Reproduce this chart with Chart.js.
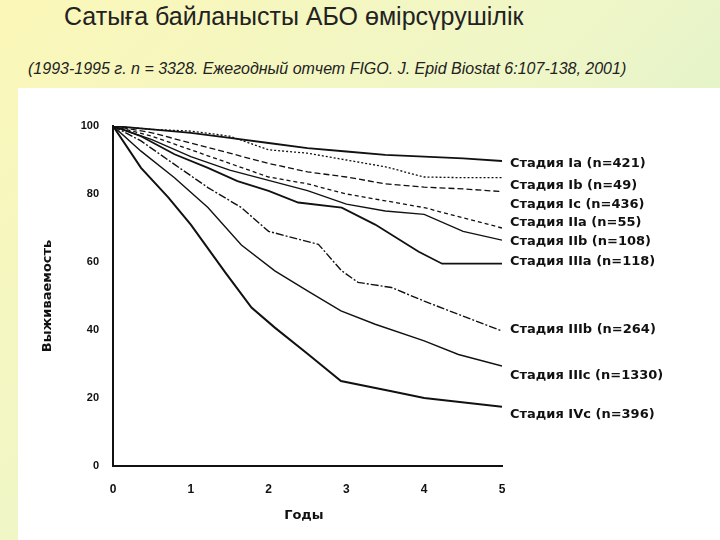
<!DOCTYPE html>
<html><head><meta charset="utf-8">
<script src="https://cdn.jsdelivr.net/npm/chart.js@4"></script>
<style>
body{margin:0;width:720px;height:540px;overflow:hidden;font-family:"Liberation Sans",Arial,sans-serif;
background:linear-gradient(135deg,#fbf7b8 0%,#eef6c8 50%,#cdeccc 100%);position:relative}
#t{position:absolute;top:2px;left:64px;font-size:25px;color:#222}
#s{position:absolute;top:60px;left:28px;font-size:16px;font-style:italic;color:#222}
#box{position:absolute;left:18px;top:88px;width:702px;height:452px;background:#fff}
</style></head><body>
<div id="t">Сатыға байланысты АБО өмірсүрушілік</div>
<div id="s">(1993-1995 г. n = 3328. Ежегодный отчет FIGO. J. Epid Biostat 6:107-138, 2001)</div>
<div id="box"><canvas id="c" width="702" height="452"></canvas></div>
<script>
const years=[0,0.5,1,1.5,2,2.5,3,3.5,4,4.5,5];
const labels=["Стадия Ia (n=421)","Стадия Ib (n=49)","Стадия Ic (n=436)","Стадия IIa (n=55)","Стадия IIb (n=108)","Стадия IIIa (n=118)"];
const Ia=[100,99,98,96.5,95,93.5,92.5,91.5,91,90.5,89.7];
const Ib=[100,99,98.5,97,93,92,90,88,85,84.8,84.8];
const Ic=[100,98,95,92,89,86.5,85,83,82,81.5,80.7];
const IIa=[100,97,93,89,85,83,80,78,76,73,70];
const IIb=[100,96,91,87,84,81,77,75,74,69,66.4];
const IIIaX=[0,0.36,0.79,1.22,1.6,2.0,2.38,2.94,3.37,3.93,4.23,5];
const IIIa=[100,97,91.7,87.7,83.8,80.9,77.5,76,71,63,59.5,59.5];
const IIIbX=[0,0.36,0.79,1.22,1.65,2.0,2.64,2.94,3.15,3.58,4.0,4.44,5];
const IIIb=[100,95.6,88.7,81.9,76,69,65.2,57.4,54,52.5,48.5,44.6,39.7];
const IIIcX=[0,0.36,0.79,1.22,1.65,2.08,2.5,2.93,3.37,4.0,4.44,5];
const IIIc=[100,92.6,84.8,76,65,57.4,51.5,45.6,41.7,36.8,32.8,29.4];
const IVcX=[0,0.36,0.71,1.0,1.44,1.78,2.08,2.5,2.93,3.58,4.0,5];
const IVc=[100,87.7,79,71,57,46.6,40.7,33,25,22,20,17.4];
const lowLabels=["Стадия IIIb (n=264)","Стадия IIIc (n=1330)","Стадия IVc (n=396)"];
const labelY=[89,82.5,77,71.5,66,60,40,26.5,15];
const xTicks=[0,1,2,3,4,5], yTicks=[0,20,40,60,80,100];
const pts=(xs,ys)=>xs.map((x,i)=>({x,y:ys[i]}));
const ds=(d,dash,w)=>({data:d,borderColor:'#111',borderWidth:w||1.5,borderDash:dash||[],pointRadius:0,fill:false,tension:0});
const allLabels=labels.concat(lowLabels);
const endLabels={id:'el',afterDatasetsDraw(c){const g=c.ctx,y=c.scales.y,x=c.scales.x;g.save();g.font='bold 13px "DejaVu Sans",sans-serif';g.fillStyle='#111';g.textBaseline='middle';
allLabels.forEach((l,i)=>g.fillText(l,x.getPixelForValue(5)+8,y.getPixelForValue(labelY[i])));
g.fillText('Годы',x.getPixelForValue(2.2),428);
g.translate(30,(y.top+y.bottom)/2);g.rotate(-Math.PI/2);g.textAlign='center';g.fillText('Выживаемость',0,0);g.restore();}};
new Chart(document.getElementById('c'),{type:'line',
data:{datasets:[ds(pts(years,Ia),[],1.8),ds(pts(years,Ib),[2,2],1.3),ds(pts(years,Ic),[6,3],1.3),ds(pts(years,IIa),[4,3],1.3),ds(pts(years,IIb),[],1.3),
ds(pts(IIIaX,IIIa),[],1.8),ds(pts(IIIbX,IIIb),[8,2,2,2],1.4),ds(pts(IIIcX,IIIc),[],1.4),ds(pts(IVcX,IVc),[],2)]},
options:{animation:false,responsive:false,layout:{padding:{top:38,right:218,left:0,bottom:0}},
plugins:{legend:{display:false},tooltip:{enabled:false}},
scales:{x:{type:'linear',min:0,max:5,afterFit:s=>{s.height=74},afterBuildTicks:s=>{s.ticks=xTicks.map(v=>({value:v}))},
grid:{display:false,drawTicks:true,tickLength:6,color:'#111'},border:{color:'#111',width:2},ticks:{color:'#111',font:{size:12,weight:'bold'},padding:10}},
y:{min:0,max:100,afterFit:s=>{s.width=95},afterBuildTicks:s=>{s.ticks=yTicks.map(v=>({value:v}))},
grid:{display:false,tickLength:8,color:'#111'},border:{color:'#111',width:2},ticks:{color:'#111',font:{size:11,weight:'bold'},padding:6}}}},
plugins:[endLabels]});
</script></body></html>
